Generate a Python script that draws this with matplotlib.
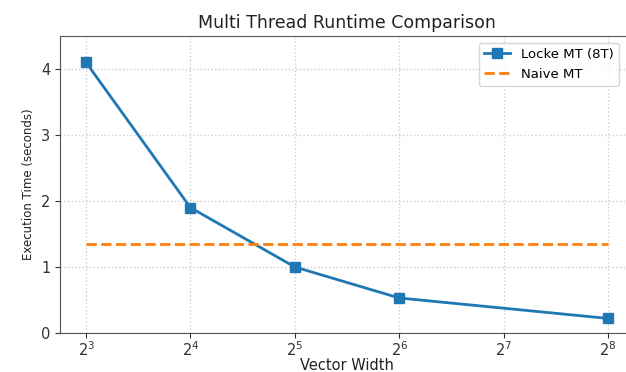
import matplotlib
matplotlib.use('Agg')
import matplotlib.pyplot as plt

# vector widths (powers of two) and runtimes
widths = [8, 16, 32, 64, 256]
locke_mt = [4.1, 1.9, 1.0, 0.53, 0.22]
naive_mt = 1.35

fig = plt.figure(figsize=(6.26, 3.72), dpi=100)
# the source is a cropped screenshot: the right edge of the axes is cut off
ax = fig.add_axes([0.0958, 0.105, 0.917, 0.798])

ax.plot(widths, locke_mt, marker='s', markersize=7, linewidth=2,
        color='#1f77b4', label='Locke MT (8T)')
ax.plot([widths[0], widths[-1]], [naive_mt, naive_mt], linestyle='--',
        linewidth=2, color='#ff7f0e', label='Naive MT')

ax.set_xscale('log', base=2)
ax.set_xticks([8, 16, 32, 64, 128, 256])
ax.set_xlim(2 ** 2.75, 2 ** 8.25)
ax.set_ylim(0, 4.5)
ax.set_yticks([0, 1, 2, 3, 4])
ax.tick_params(labelsize=10.5, colors='#333333')
ax.tick_params(axis='x', pad=2)
ax.grid(True, linestyle=':', color='#cccccc', linewidth=1)

ax.set_title('Multi Thread Runtime Comparison', fontsize=12.5, color='#222222')
ax.set_xlabel('Vector Width', fontsize=10.5, color='#222222', labelpad=-1)
ax.set_ylabel('Execution Time (seconds)', fontsize=8.5, color='#222222')
ax.legend(loc='upper right', fontsize=9.5, bbox_to_anchor=(0.985, 1.0))

for s in ax.spines.values():
    s.set_color('#555555')

fig.savefig('out.png', dpi=100)
